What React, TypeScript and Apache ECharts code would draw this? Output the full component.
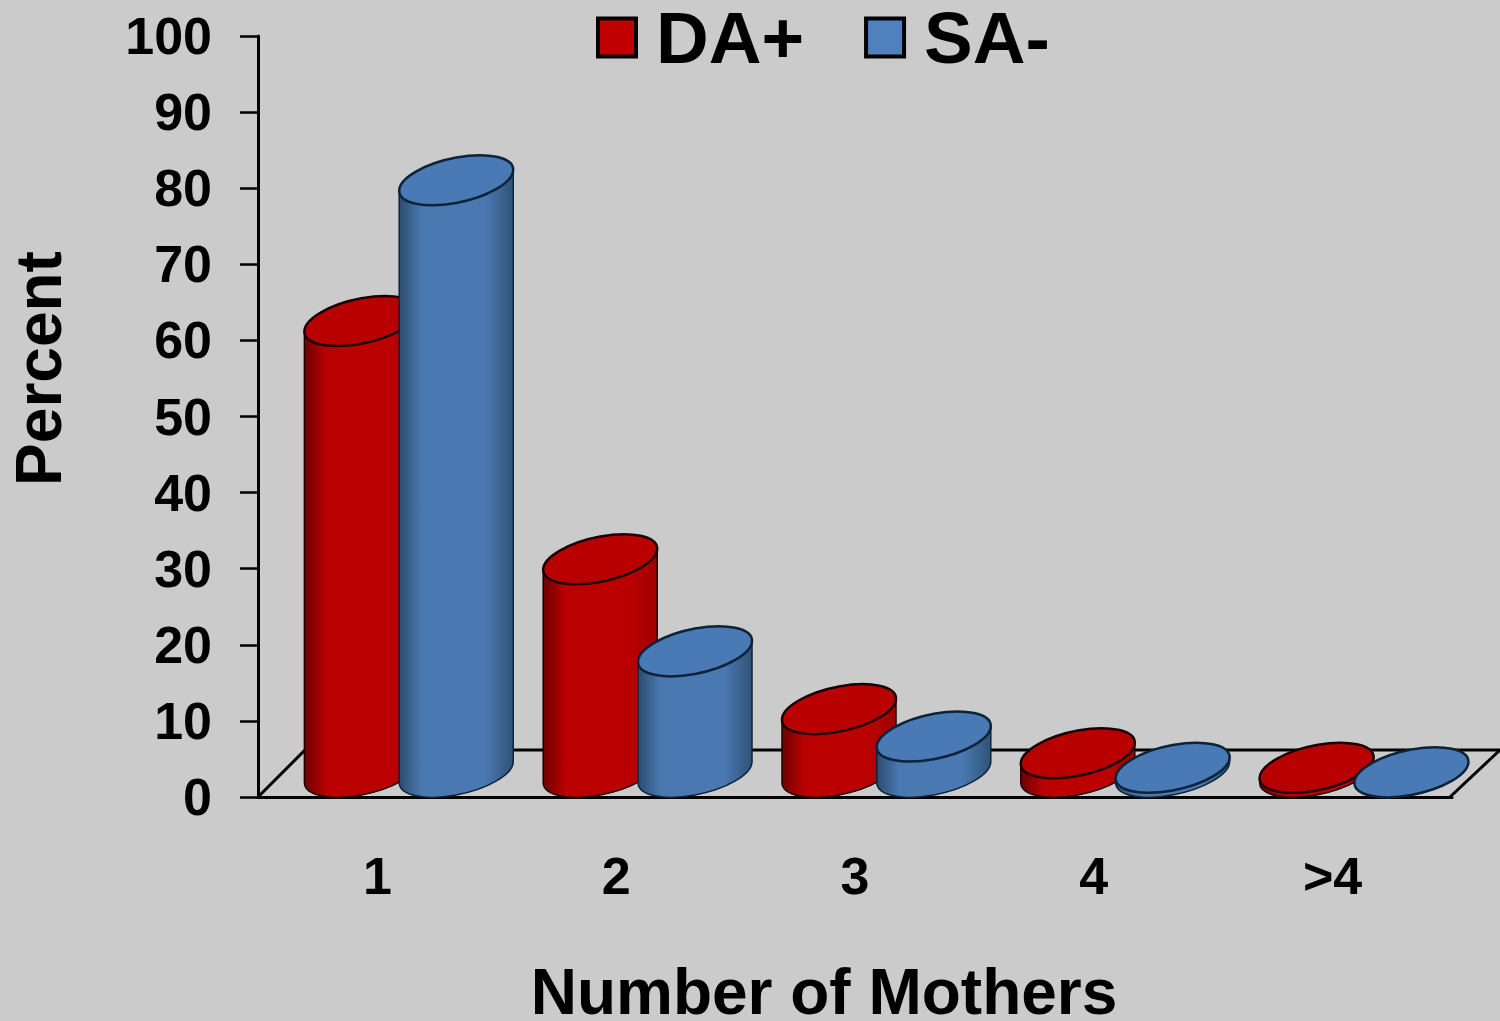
import React, { useEffect, useRef } from "react";
import * as echarts from "echarts";

const categories = ["1", "2", "3", "4", ">4"];
const daPlus = [59.3, 28, 8.3, 2.5, 0.6];
const saMinus = [77.8, 15.9, 4.7, 0.6, 0];
const yTicks = { min: 0, max: 100, interval: 10 };

const FONT = '"Liberation Sans", Arial, sans-serif';
const K = 0.5523;
// half-axes of the sheared ellipse that forms each cylinder's cap
const UX = 57, UY = -10.5, VY = -22.7, BASE_LIFT = 24.7;

function capPath(cx: number, cy: number) {
  const p = (a: number, b: number) => `${cx + a * UX} ${cy + a * UY + b * VY}`;
  return `M${p(1, 0)} C${p(1, K)} ${p(K, 1)} ${p(0, 1)} C${p(-K, 1)} ${p(-1, K)} ${p(-1, 0)} C${p(-1, -K)} ${p(-K, -1)} ${p(0, -1)} C${p(K, -1)} ${p(1, -K)} ${p(1, 0)} Z`;
}
function bodyPath(cx: number, top: number, base: number) {
  const p = (a: number, b: number) => `${cx + a * UX} ${base + a * UY + b * VY}`;
  return `M${cx - UX} ${top - UY} L${p(-1, 0)} C${p(-1, -K)} ${p(-K, -1)} ${p(0, -1)} C${p(K, -1)} ${p(1, -K)} ${p(1, 0)} L${cx + UX} ${top + UY} Z`;
}

function cylinderSeries(name: string, values: number[], offset: number, c: {
  legend: string; dark: string; mid: string; right: string; cap: string; line: string;
}) {
  return {
    type: "custom",
    name,
    clip: false,
    itemStyle: { color: c.legend, borderColor: "#000", borderWidth: 4 },
    encode: { x: 0, y: 1 },
    data: values.map((v, i) => [i, v]),
    renderItem: (_p: any, api: any) => {
      const [x, y] = api.coord([api.value(0), api.value(1)]);
      const [, y0] = api.coord([api.value(0), 0]);
      const band = api.size([1, 0])[0];
      const cx = x + offset * band;
      const top = y - BASE_LIFT, base = y0 - BASE_LIFT;
      const fill = new echarts.graphic.LinearGradient(0, 0, 1, 0, [
        { offset: 0, color: c.dark },
        { offset: 0.2, color: c.mid },
        { offset: 0.75, color: c.mid },
        { offset: 1, color: c.right },
      ]);
      return {
        type: "group",
        children: [
          { type: "path", shape: { pathData: bodyPath(cx, top, base) },
            style: { fill, stroke: c.line, lineWidth: 1.5 } },
          { type: "path", shape: { pathData: capPath(cx, top) },
            style: { fill: c.cap, stroke: c.line, lineWidth: 2.5 } },
        ],
      };
    },
  };
}

export default function App() {
  const ref = useRef<HTMLDivElement>(null);
  useEffect(() => {
    document.body.style.margin = "0";
    const chart = echarts.init(ref.current!, null, { renderer: "svg" });
    chart.setOption({
      animation: false,
      backgroundColor: "#cbcbcb",
      textStyle: { fontFamily: FONT },
      grid: { left: 258, right: 48, top: 36, bottom: 224, outerBoundsMode: "none" },
      legend: {
        left: 596, top: 1, padding: 0, itemWidth: 38, itemHeight: 38, itemGap: 60,
        icon: "rect",
        itemStyle: { borderColor: "#000", borderWidth: 4 },
        textStyle: { fontSize: 73, lineHeight: 50, fontWeight: "bold", color: "#000", fontFamily: FONT, padding: [0, 0, 0, 15] },
        data: ["DA+", "SA-"],
      },
      xAxis: {
        type: "category", data: categories,
        axisLine: { lineStyle: { color: "#000", width: 3 } },
        axisTick: { show: false },
        axisLabel: { fontSize: 52, fontWeight: "bold", color: "#000", margin: 53, fontFamily: FONT },
        name: "Number of Mothers", nameLocation: "middle", nameGap: 170,
        nameTextStyle: { fontSize: 64, lineHeight: 50, fontWeight: "bold", color: "#000", fontFamily: FONT, padding: [0, 62, 0, 0] },
      },
      yAxis: {
        type: "value", ...yTicks, splitLine: { show: false },
        axisLine: { show: true, lineStyle: { color: "#000", width: 3 } },
        axisTick: { show: true, length: 18, lineStyle: { color: "#000", width: 2.5 } },
        axisLabel: { fontSize: 52, fontWeight: "bold", color: "#000", margin: 46, fontFamily: FONT },
        name: "Percent", nameLocation: "middle", nameGap: 187,
        nameTextStyle: { fontSize: 64, fontWeight: "bold", color: "#000", fontFamily: FONT, padding: [0, 0, 0, 96] },
      },
      graphic: [
        { type: "polyline", shape: { points: [[258, 797], [305, 750], [1500, 750]] }, style: { stroke: "#000", lineWidth: 3, fill: "none" } },
        { type: "line", shape: { x1: 1450, y1: 797, x2: 1500, y2: 750 }, style: { stroke: "#000", lineWidth: 3 } },
      ],
      series: [
        cylinderSeries("DA+", daPlus, -0.067, { legend: "#c00000", dark: "#6e0000", mid: "#bb0000", right: "#a00000", cap: "#b80000", line: "#1c0000" }),
        cylinderSeries("SA-", saMinus, 0.33, { legend: "#4f81bd", dark: "#2c4c6e", mid: "#4a79b2", right: "#2f5378", cap: "#4a7ab5", line: "#0d2338" }),
      ],
    });
    return () => chart.dispose();
  }, []);
  return <div ref={ref} style={{ position: "absolute", left: 0, top: 0, width: 1500, height: 1021 }} />;
}
